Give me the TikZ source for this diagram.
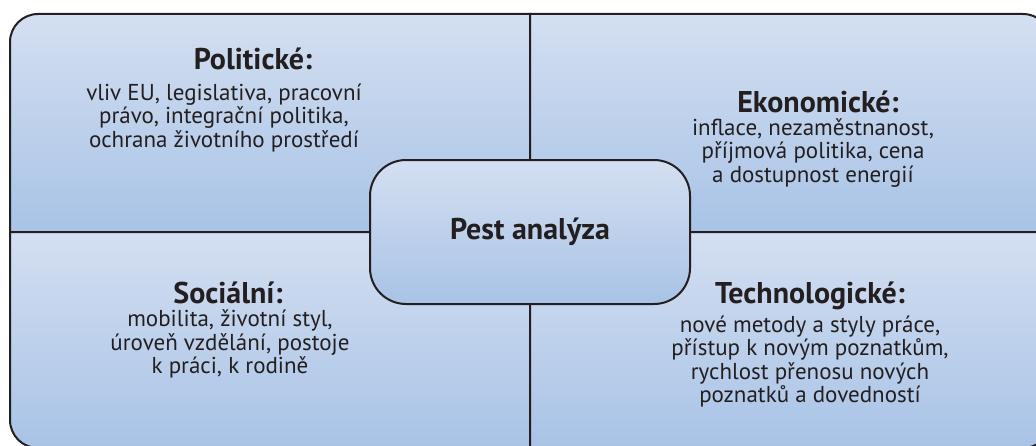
\documentclass[tikz,border=0pt]{standalone}
\usepackage{fontspec}
\setmainfont{PT Sans}
\definecolor{qtop}{HTML}{D4DFF1}
\definecolor{qbot}{HTML}{A8C3E6}
\definecolor{ink}{HTML}{231F20}
\tikzset{
  quad/.style  ={draw=ink, line width=1pt, top color=qtop, bottom color=qbot},
  ctrbox/.style={draw=ink, line width=1pt, rounded corners=18pt,
                 minimum width=160pt, minimum height=72pt,
                 top color=qtop, bottom color=qbot, text=ink,
                 font=\bfseries\fontsize{15}{17}\selectfont},
  hdr/.style   ={font=\bfseries\fontsize{15}{17}\selectfont, text=ink,
                 inner sep=0pt},
  body/.style  ={font=\fontsize{11.5}{11.75}\selectfont, text=ink,
                 align=center, inner sep=0pt},
}
\begin{document}
\begin{tikzpicture}[x=0.5pt, y=0.5pt]
  \clip (0,0) rectangle (1036,445);
  % four quadrants
  \path[quad] (530,213) -- (10,213) -- (10,403)
    arc[start angle=180, end angle=90, radius=28] -- (530,431) -- cycle;
  \path[quad] (530,213) -- (530,431) -- (1023,431)
    arc[start angle=90, end angle=0, radius=28] -- (1051,213) -- cycle;
  \path[quad] (530,213) -- (10,213) -- (10,25)
    arc[start angle=180, end angle=270, radius=28] -- (530,-3) -- cycle;
  \path[quad] (530,213) -- (1051,213) -- (1051,25)
    arc[start angle=0, end angle=-90, radius=28] -- (530,-3) -- cycle;
  \node[ctrbox] (pest) at (530,213) {Pest analýza};
  \node[hdr]  (pol)  at (253,386) {Politické:};
  \node[body] (polt) at (224,327)
    {vliv EU, legislativa, pracovní\\právo, integrační politika,\\ochrana životního prostředí};
  \node[hdr]  (eko)  at (818,343) {Ekonomické:};
  \node[body] (ekot) at (813,292)
    {inflace, nezaměstnanost,\\příjmová politika, cena\\a dostupnost energií};
  \node[hdr]  (soc)  at (228,152) {Sociální:};
  \node[body] (soct) at (230,101)
    {mobilita, životní styl,\\úroveň vzdělání, postoje\\k práci, k rodině};
  \node[hdr]  (tech) at (810,149) {Technologické:};
  \node[body] (techt) at (810,83.5)
    {nové metody a styly práce,\\přístup k novým poznatkům,\\rychlost přenosu nových\\poznatků a dovedností};
\end{tikzpicture}
\end{document}
